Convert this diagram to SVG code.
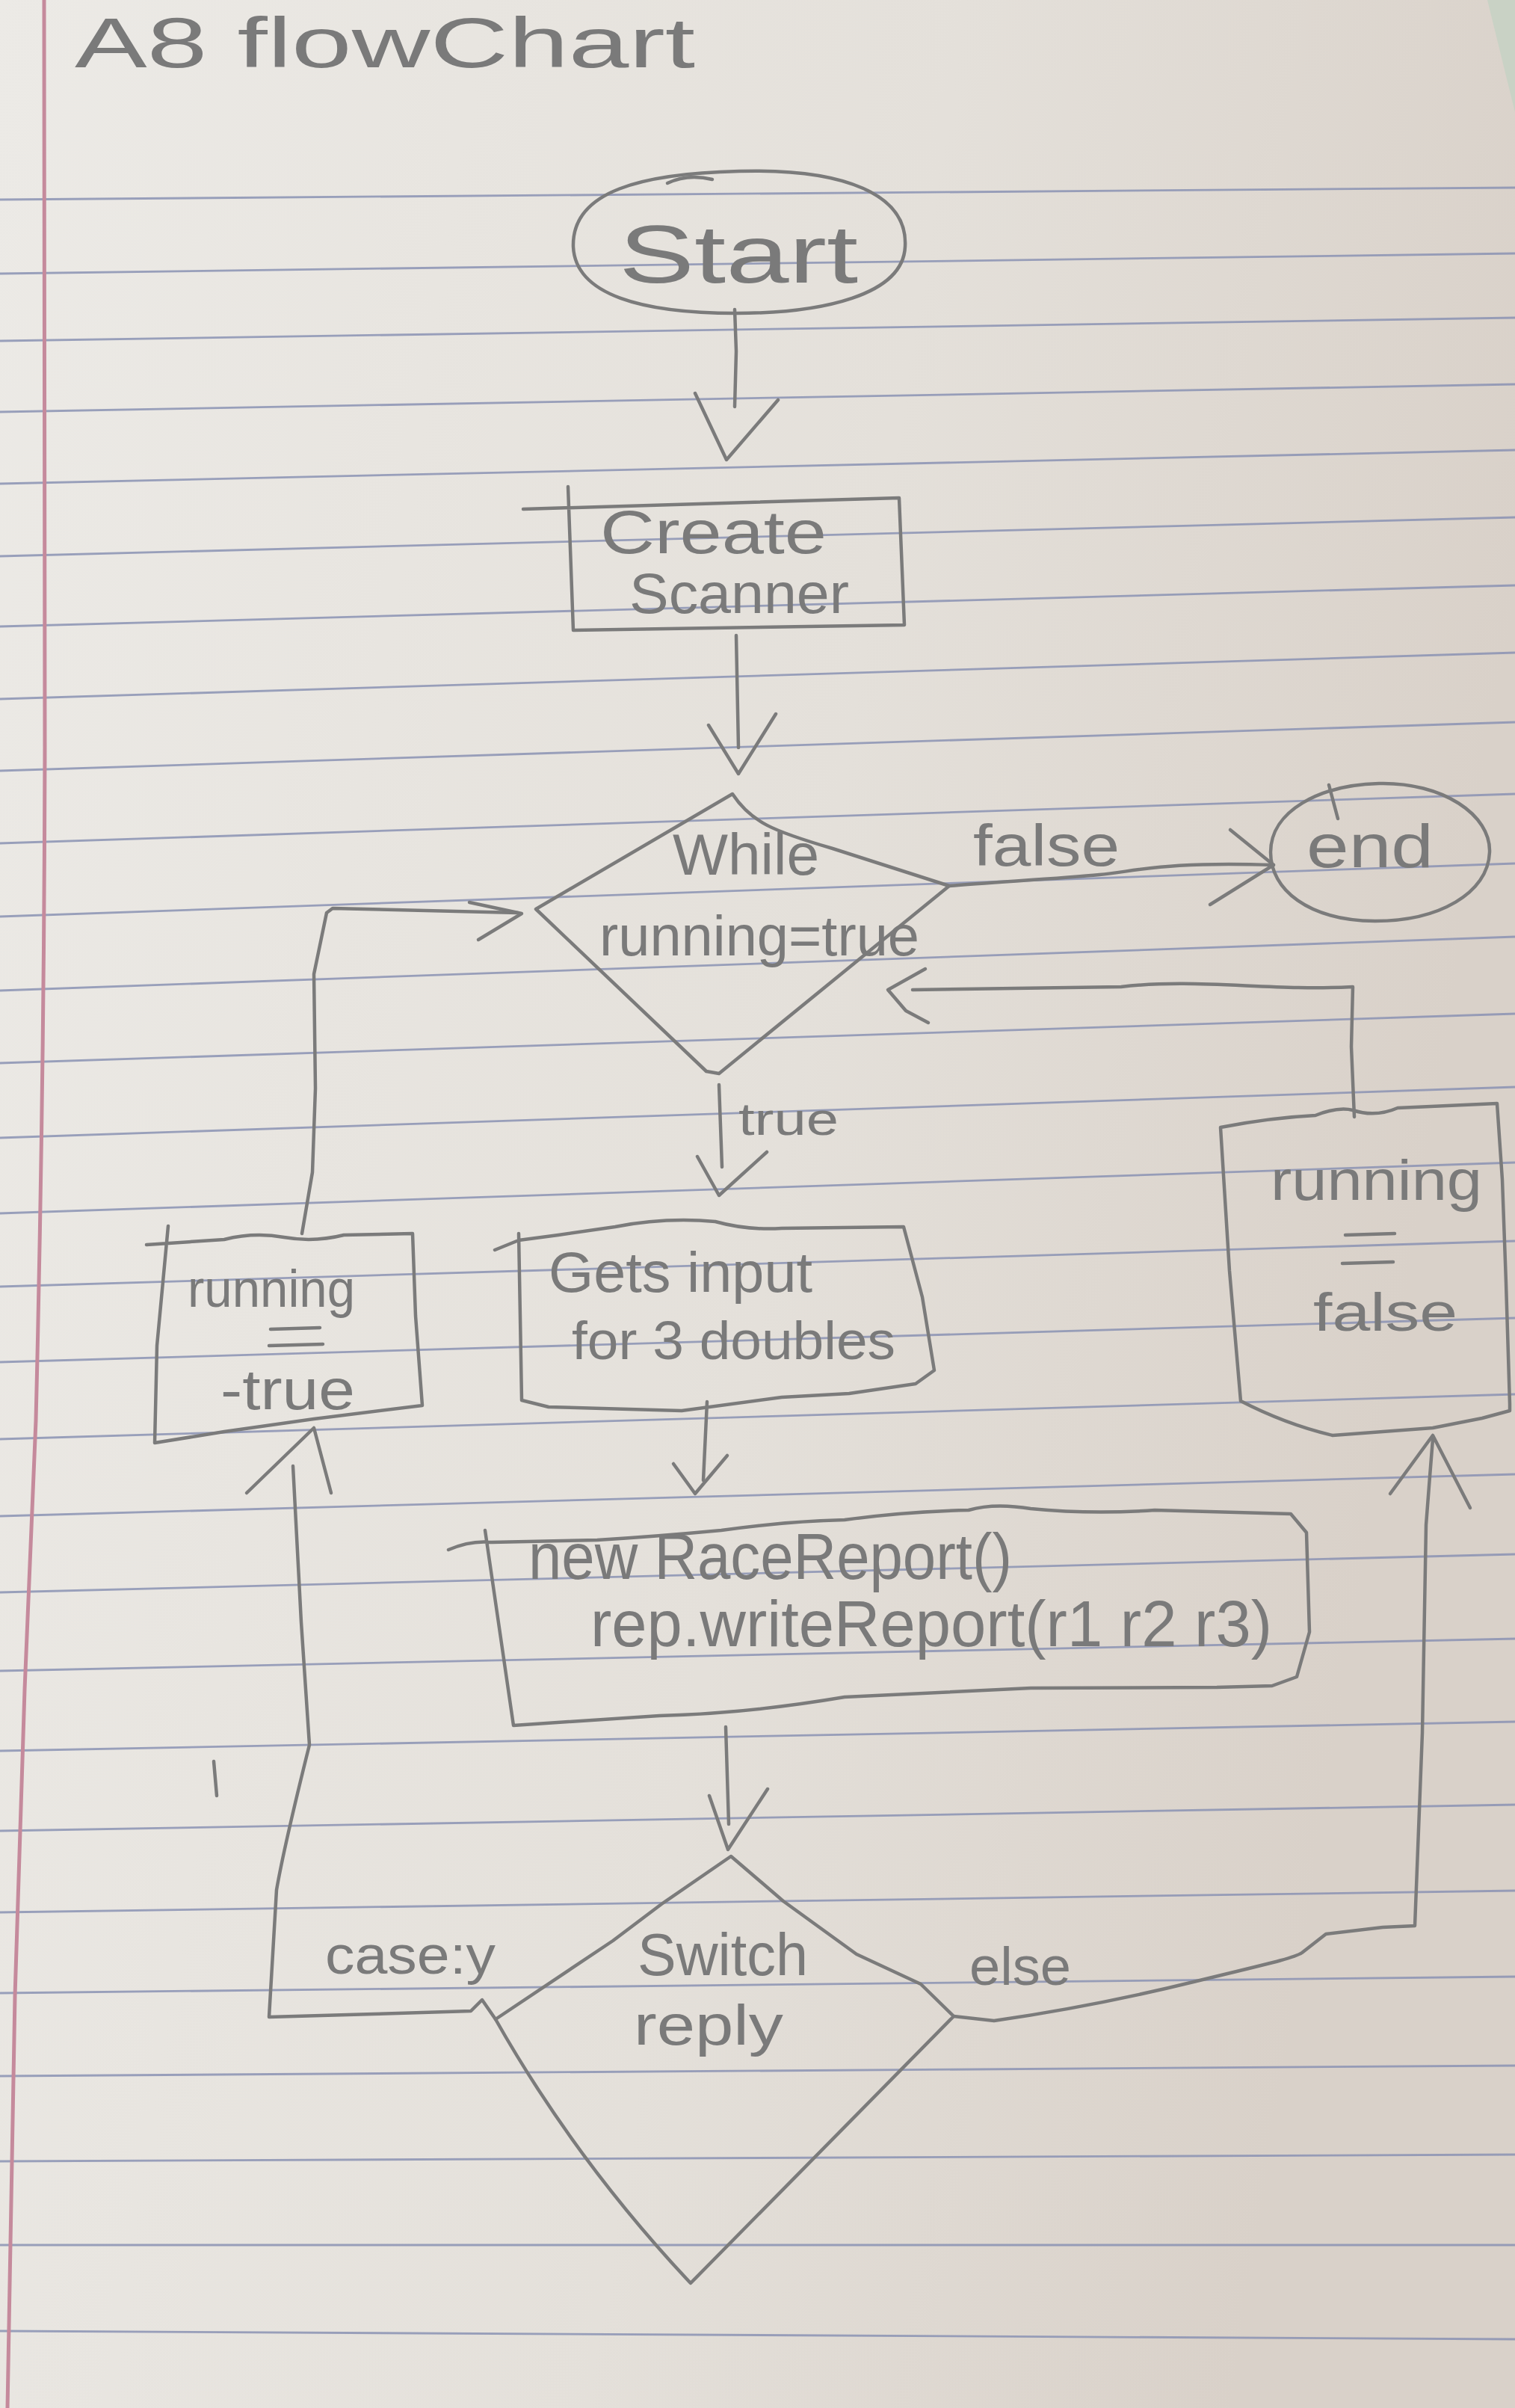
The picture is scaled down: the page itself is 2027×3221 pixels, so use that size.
<svg xmlns="http://www.w3.org/2000/svg" width="2027" height="3221" viewBox="0 0 2027 3221">
<defs>
<linearGradient id="paperGrad" x1="0" y1="0" x2="1" y2="0.25">
<stop offset="0" stop-color="#eceae6"/>
<stop offset="0.6" stop-color="#e4e0da"/>
<stop offset="1" stop-color="#d9d1c9"/>
</linearGradient>
<style>
.rule{stroke:#8a92b3;stroke-width:2.8;fill:none;opacity:0.85}
.margin{stroke:#c58a9c;stroke-width:5;fill:none}
.pencil{stroke:#7b7b7b;stroke-width:4.5;fill:none;stroke-linecap:round;stroke-linejoin:round}
.arrow{stroke:#7b7b7b;stroke-width:4.5;fill:none;stroke-linecap:round;stroke-linejoin:round}
.hand{font-family:"Liberation Sans","DejaVu Sans",sans-serif;fill:#7a7a7a}
</style>
</defs>

<g id="paper">
<rect x="0" y="0" width="2027" height="3221" fill="url(#paperGrad)"/>
<path d="M1990 0 L2027 0 L2027 150 Z" fill="#c9d2c5"/>
<path class="rule" d="M0 267 L2027 251"/>
<path class="rule" d="M0 366 L2027 339"/>
<path class="rule" d="M0 456 L2027 425"/>
<path class="rule" d="M0 551 L2027 514"/>
<path class="rule" d="M0 647 L2027 602"/>
<path class="rule" d="M0 744 L2027 692"/>
<path class="rule" d="M0 838 L2027 783"/>
<path class="rule" d="M0 935 L2027 873"/>
<path class="rule" d="M0 1031 L2027 966"/>
<path class="rule" d="M0 1128 L2027 1062"/>
<path class="rule" d="M0 1226 L2027 1155"/>
<path class="rule" d="M0 1325 L2027 1253"/>
<path class="rule" d="M0 1422 L2027 1356"/>
<path class="rule" d="M0 1522 L2027 1454"/>
<path class="rule" d="M0 1623 L2027 1555"/>
<path class="rule" d="M0 1721 L2027 1660"/>
<path class="rule" d="M0 1822 L2027 1763"/>
<path class="rule" d="M0 1925 L2027 1865"/>
<path class="rule" d="M0 2028 L2027 1972"/>
<path class="rule" d="M0 2130 L2027 2079"/>
<path class="rule" d="M0 2235 L2027 2192"/>
<path class="rule" d="M0 2342 L2027 2303"/>
<path class="rule" d="M0 2449 L2027 2414"/>
<path class="rule" d="M0 2558 L2027 2529"/>
<path class="rule" d="M0 2666 L2027 2644"/>
<path class="rule" d="M0 2777 L2027 2763"/>
<path class="rule" d="M0 2891 L2027 2882"/>
<path class="rule" d="M0 3003 L2027 3003"/>
<path class="rule" d="M0 3118 L2027 3129"/>
<path class="margin" d="M59 0 L60 1000 Q59 1450 48 1900 L33 2260 L20 2670 L10 3221"/>
</g>

<g id="title">
<text class="hand" x="100" y="90" font-size="94" textLength="830" lengthAdjust="spacingAndGlyphs">A8 flowChart</text>
</g>

<g id="connectors">
<path class="pencil" d="M983 414 L985 470 L983 544"/>
<path class="arrow" d="M930 526 L972 615 L1041 535"/>
<path class="pencil" d="M985 850 L988 1000"/>
<path class="arrow" d="M948 970 L988 1035 L1038 955"/>
<path class="pencil" d="M1270 1185 C1330 1180 1420 1175 1471 1170 S1560 1152 1704 1157"/>
<path class="arrow" d="M1646 1110 L1704 1157 L1619 1210"/>
<path class="pencil" d="M962 1451 L966 1561"/>
<path class="arrow" d="M933 1547 L962 1599 L1026 1541"/>
<path class="pencil" d="M946 1875 L941 1980"/>
<path class="arrow" d="M901 1958 L930 1998 L973 1947"/>
<path class="pencil" d="M971 2310 L975 2440"/>
<path class="arrow" d="M949 2402 L974 2474 L1027 2393"/>
<path class="pencil" d="M663 2701 L645 2675 L630 2690 L500 2694 L360 2698 L370 2528 Q380 2470 414 2334 L403 2170 L392 1961"/>
<path class="arrow" d="M330 1997 L420 1910 L443 1997"/>
<path class="pencil" d="M404 1650 L418 1568 L422 1456 L420 1303 L437 1221 L445 1215 L693 1221"/>
<path class="arrow" d="M628 1207 L698 1222 L640 1257"/>
<path class="pencil" d="M1276 2697 L1330 2703 C1420 2690 1520 2670 1601 2650 S1730 2620 1742 2612 L1774 2587 L1850 2578 L1893 2576 L1903 2318 L1908 2040 L1913 1975 L1917 1925"/>
<path class="arrow" d="M1860 1998 L1917 1920 L1967 2017"/>
<path class="pencil" d="M1812 1494 L1808 1400 L1810 1320 C1700 1326 1600 1308 1500 1320 L1221 1324"/>
<path class="arrow" d="M1238 1296 L1188 1324 L1212 1352 L1242 1368"/>
<text class="hand" x="1302" y="1158" font-size="78" textLength="196" lengthAdjust="spacingAndGlyphs">false</text>
<text class="hand" x="988" y="1518" font-size="62" textLength="134" lengthAdjust="spacingAndGlyphs">true</text>
<text class="hand" x="435" y="2640" font-size="72" textLength="228" lengthAdjust="spacingAndGlyphs">case:y</text>
<text class="hand" x="1297" y="2655" font-size="72" textLength="136" lengthAdjust="spacingAndGlyphs">else</text>
</g>

<g id="node-start">
<path class="pencil" d="M989 229 C1130 225 1215 260 1211 330 C1208 395 1100 419 985 419 C860 419 770 395 767 330 C765 255 860 232 989 229 Z"/>
<path class="pencil" d="M893 245 Q920 232 953 240"/>
<text class="hand" x="828" y="378" font-size="110" textLength="320" lengthAdjust="spacingAndGlyphs">Start</text>
</g>

<g id="node-create-scanner">
<path class="pencil" d="M700 681 L1203 666 L1210 836 L767 843 L760 651"/>
<text class="hand" x="803" y="740" font-size="82" textLength="303" lengthAdjust="spacingAndGlyphs">Create</text>
<text class="hand" x="842" y="820" font-size="76" textLength="294" lengthAdjust="spacingAndGlyphs">Scanner</text>
</g>

<g id="node-while">
<path class="pencil" d="M980 1062 C1005 1100 1035 1112 1114 1135 L1270 1185 L962 1436 L945 1433 L717 1216 Z"/>
<text class="hand" x="900" y="1170" font-size="78" textLength="196" lengthAdjust="spacingAndGlyphs">While</text>
<text class="hand" x="802" y="1278" font-size="76" textLength="428" lengthAdjust="spacingAndGlyphs">running=true</text>
</g>

<g id="node-end">
<path class="pencil" d="M1845 1048 C1930 1046 1995 1090 1993 1140 C1991 1195 1925 1232 1840 1232 C1750 1231 1700 1190 1700 1140 C1700 1085 1765 1050 1845 1048 Z"/>
<path class="pencil" d="M1778 1050 L1790 1095"/>
<text class="hand" x="1748" y="1160" font-size="82" textLength="170" lengthAdjust="spacingAndGlyphs">end</text>
</g>

<g id="node-running-true">
<path class="pencil" d="M196 1665 L300 1658 Q340 1648 380 1655 Q420 1662 460 1652 L552 1650 L556 1760 L565 1880 L420 1898 L300 1915 L207 1930 L210 1800 L225 1640"/>
<text class="hand" x="251" y="1748" font-size="70" textLength="224" lengthAdjust="spacingAndGlyphs">running</text>
<path class="pencil" d="M362 1778 L428 1776 M360 1800 L432 1798"/>
<text class="hand" x="295" y="1885" font-size="76" textLength="180" lengthAdjust="spacingAndGlyphs">-true</text>
</g>

<g id="node-gets-input">
<path class="pencil" d="M662 1672 L694 1659 L747 1652 L823 1641 Q890 1628 957 1634 Q1000 1646 1046 1643 L1209 1641 L1234 1735 L1250 1833 L1225 1851 L1136 1864 L1046 1869 L912 1887 L734 1882 L698 1873 L694 1650"/>
<text class="hand" x="734" y="1728" font-size="76" textLength="353" lengthAdjust="spacingAndGlyphs">Gets input</text>
<text class="hand" x="765" y="1818" font-size="72" textLength="433" lengthAdjust="spacingAndGlyphs">for 3 doubles</text>
</g>

<g id="node-race-report">
<path class="pencil" d="M600 2073 Q630 2060 658 2063 L799 2060 Q880 2055 965 2047 Q1050 2035 1130 2033 Q1210 2022 1296 2020 Q1330 2010 1379 2018 Q1460 2026 1545 2020 L1727 2025 L1748 2050 L1752 2183 L1735 2243 L1702 2255 L1628 2257 L1379 2258 L1130 2270 Q1000 2292 882 2295 L687 2308 L649 2047"/>
<text class="hand" x="707" y="2112" font-size="88" textLength="647" lengthAdjust="spacingAndGlyphs">new RaceReport()</text>
<text class="hand" x="790" y="2202" font-size="88" textLength="912" lengthAdjust="spacingAndGlyphs">rep.writeReport(r1 r2 r3)</text>
</g>

<g id="node-running-false">
<path class="pencil" d="M1633 1508 Q1700 1495 1760 1492 Q1790 1480 1810 1485 Q1840 1495 1870 1482 L2003 1476 L2010 1578 L2015 1716 L2020 1878 L2020 1887 L1983 1897 L1917 1910 L1783 1920 Q1720 1905 1660 1874 L1645 1700 Z"/>
<text class="hand" x="1700" y="1605" font-size="76" textLength="283" lengthAdjust="spacingAndGlyphs">running</text>
<path class="pencil" d="M1800 1652 L1866 1650 M1796 1690 L1864 1688"/>
<text class="hand" x="1757" y="1780" font-size="72" textLength="193" lengthAdjust="spacingAndGlyphs">false</text>
</g>

<g id="node-switch">
<path class="pencil" d="M978 2483 L1048 2543 L1146 2614 L1232 2654 L1276 2697 L924 3054 Q770 2890 663 2701 L820 2596 L885 2547 Z"/>
<text class="hand" x="853" y="2642" font-size="80" textLength="228" lengthAdjust="spacingAndGlyphs">Switch</text>
<text class="hand" x="848" y="2735" font-size="76" textLength="200" lengthAdjust="spacingAndGlyphs">reply</text>
</g>

<g id="stray-mark">
<path class="pencil" d="M286 2356 L290 2402"/>
</g>
</svg>
